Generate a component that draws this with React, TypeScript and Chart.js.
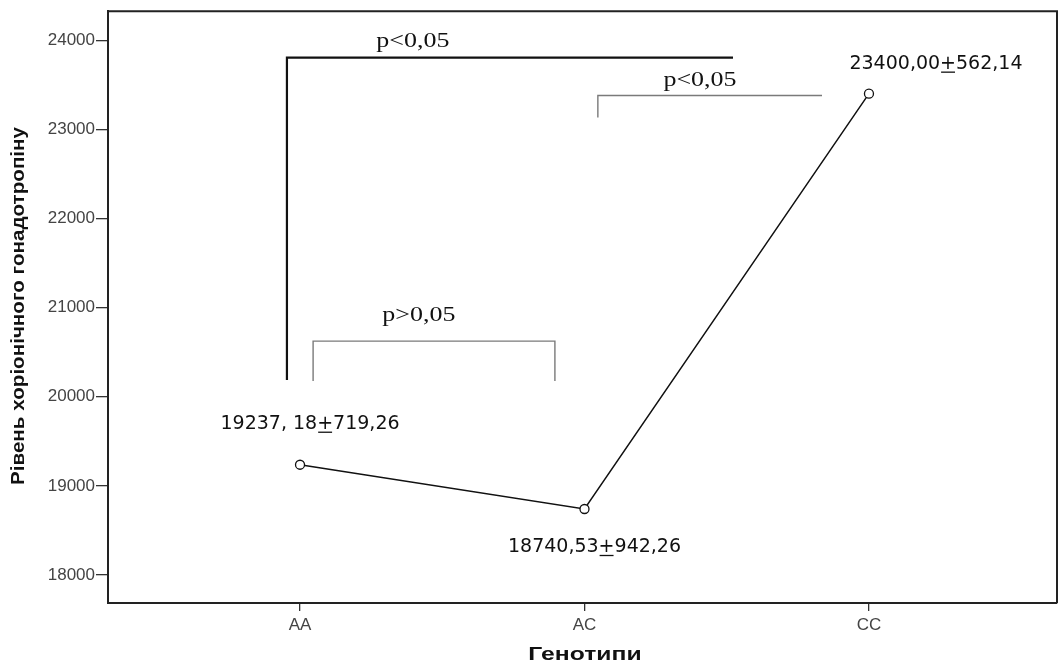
import React, { useEffect, useRef } from 'react';
import { Chart, registerables } from 'chart.js';

Chart.register(...registerables);

// ---- data ----
const categories = ['AA', 'AC', 'CC'];
const means = [19237.18, 18740.53, 23400.0];
const meanLabels = ['19237, 18±719,26', '18740,53±942,26', '23400,00±562,14'];
const yTickValues = [18000, 19000, 20000, 21000, 22000, 23000, 24000];

// significance brackets (x in category units, y in hormone units)
const bracketLabels = ['p<0,05', 'p<0,05', 'p>0,05'];
const bracketStartX = [-0.046, 1.047, 0.046];
const bracketEndX = [1.522, 1.835, 0.896];
const bracketTopY = [23804, 23379, 20624];
const bracketLeftBottomY = [20187, 23133, 20176];
const bracketRightBottomY = [null, null, 20176];
const bracketLabelX = [0.397, 1.406, 0.418];
const bracketLabelY = [23984, 23547, 20904];

const yTitle = 'Рівень хоріонічного гонадотропіну';
const xTitle = 'Генотипи';

const W = 1059;
const H = 670;

function drawStretched(ctx: CanvasRenderingContext2D, text: string, x: number, y: number, sx: number) {
  ctx.save();
  ctx.translate(x, y);
  ctx.scale(sx, 1);
  ctx.fillText(text, 0, 0);
  ctx.restore();
}

function drawMeanLabel(ctx: CanvasRenderingContext2D, text: string, cx: number, cy: number) {
  ctx.save();
  ctx.font = '19px "DejaVu Sans"';
  ctx.fillStyle = '#111';
  ctx.textBaseline = 'middle';
  ctx.textAlign = 'left';
  const parts = text.split('±');
  const pre = parts[0];
  const post = parts[1] ?? '';
  const wPre = ctx.measureText(pre).width;
  const wPlus = ctx.measureText('+').width;
  const wPost = ctx.measureText(post).width;
  const total = wPre + wPlus + wPost;
  let x = cx - total / 2;
  ctx.fillText(pre, x, cy);
  x += wPre;
  ctx.fillText('+', x, cy);
  ctx.strokeStyle = '#111';
  ctx.lineWidth = 1.3;
  ctx.beginPath();
  ctx.moveTo(x + 1, cy + 8.5);
  ctx.lineTo(x + wPlus - 1, cy + 8.5);
  ctx.stroke();
  x += wPlus;
  ctx.fillText(post, x, cy);
  ctx.restore();
}

const overlayPlugin = {
  id: 'overlay',
  afterDatasetsDraw(chart: any) {
    const { ctx, chartArea } = chart;
    const xs = chart.scales.x;
    const ys = chart.scales.y;
    ctx.save();

    // frame (top & right)
    ctx.strokeStyle = '#222';
    ctx.lineWidth = 2;
    ctx.beginPath();
    ctx.moveTo(chartArea.left, chartArea.top);
    ctx.lineTo(chartArea.right, chartArea.top);
    ctx.lineTo(chartArea.right, chartArea.bottom);
    ctx.stroke();

    // brackets
    for (let i = 0; i < bracketLabels.length; i++) {
      const x1 = xs.getPixelForValue(bracketStartX[i]);
      const x2 = xs.getPixelForValue(bracketEndX[i]);
      const yt = ys.getPixelForValue(bracketTopY[i]);
      const yl = ys.getPixelForValue(bracketLeftBottomY[i]);
      const rb = bracketRightBottomY[i];
      ctx.strokeStyle = i === 0 ? '#111' : '#7a7a7a';
      ctx.lineWidth = i === 0 ? 2.2 : 1.4;
      ctx.beginPath();
      ctx.moveTo(x1, yl);
      ctx.lineTo(x1, yt);
      ctx.lineTo(x2, yt);
      if (rb !== null) ctx.lineTo(x2, ys.getPixelForValue(rb));
      ctx.stroke();

      ctx.fillStyle = '#111';
      ctx.font = '20px "Liberation Serif"';
      ctx.textAlign = 'center';
      ctx.textBaseline = 'middle';
      drawStretched(ctx, bracketLabels[i], xs.getPixelForValue(bracketLabelX[i]), ys.getPixelForValue(bracketLabelY[i]), 1.3);
    }

    // mean labels
    const offsets = [
      [10, -41],
      [10, 38],
      [67, -30],
    ];
    for (let i = 0; i < means.length; i++) {
      const px = xs.getPixelForValue(i);
      const py = ys.getPixelForValue(means[i]);
      drawMeanLabel(ctx, meanLabels[i], px + offsets[i][0], py + offsets[i][1]);
    }

    // axis titles
    ctx.fillStyle = '#111';
    ctx.font = 'bold 18px "Liberation Sans"';
    ctx.textAlign = 'center';
    ctx.textBaseline = 'middle';
    ctx.save();
    ctx.translate(19, 306);
    ctx.rotate(-Math.PI / 2);
    const tw = ctx.measureText(yTitle).width;
    ctx.scale(358 / tw, 1);
    ctx.fillText(yTitle, 0, 0);
    ctx.restore();

    ctx.font = 'bold 19px "Liberation Sans"';
    drawStretched(ctx, xTitle, 585, 655, 1.3);

    ctx.restore();
  },
};

export default function App() {
  const ref = useRef<HTMLCanvasElement | null>(null);
  useEffect(() => {
    if (!ref.current) return;
    const chart = new Chart(ref.current, {
      type: 'line',
      data: {
        datasets: [
          {
            data: means.map((v, i) => ({ x: i, y: v })),
            borderColor: '#111',
            borderWidth: 1.5,
            pointRadius: 4.5,
            pointBorderWidth: 1.3,
            pointBackgroundColor: '#fff',
            pointBorderColor: '#111',
            fill: false,
            tension: 0,
          },
        ],
      },
      options: {
        animation: false,
        responsive: false,
        maintainAspectRatio: false,
        layout: { autoPadding: false, padding: { top: 10, right: 2, left: 0, bottom: 0 } },
        plugins: { legend: { display: false }, tooltip: { enabled: false } },
        scales: {
          x: {
            type: 'linear',
            min: -0.675,
            max: 2.661,
            afterBuildTicks: (scale: any) => {
              scale.ticks = categories.map((_, i) => ({ value: i }));
            },
            afterFit: (scale: any) => {
              scale.height = 67;
            },
            ticks: {
              callback: (v: any) => categories[Number(v)] ?? '',
              font: { family: 'Liberation Sans', size: 17 },
              color: '#444',
              padding: 4,
              autoSkip: false,
              maxRotation: 0,
            },
            grid: { display: true, drawOnChartArea: false, drawTicks: true, tickLength: 8, color: '#333', lineWidth: 1.3 },
            border: { display: true, color: '#222', width: 2 },
          },
          y: {
            type: 'linear',
            min: 17686,
            max: 24325,
            afterBuildTicks: (scale: any) => {
              scale.ticks = yTickValues.map((v) => ({ value: v }));
            },
            afterFit: (scale: any) => {
              scale.width = 108;
            },
            ticks: {
              font: { family: 'Liberation Sans', size: 17 },
              color: '#444',
              padding: 1,
              callback: (v: any) => String(v),
            },
            grid: { display: true, drawOnChartArea: false, drawTicks: true, tickLength: 12, color: '#333', lineWidth: 1.3 },
            border: { display: true, color: '#222', width: 2 },
          },
        },
      },
      plugins: [overlayPlugin],
    });
    return () => chart.destroy();
  }, []);

  return (
    <div style={{ position: 'absolute', left: 0, top: 0, width: W, height: H, background: '#fff' }}>
      <canvas ref={ref} width={W} height={H} style={{ width: W, height: H, display: 'block' }} />
    </div>
  );
}
